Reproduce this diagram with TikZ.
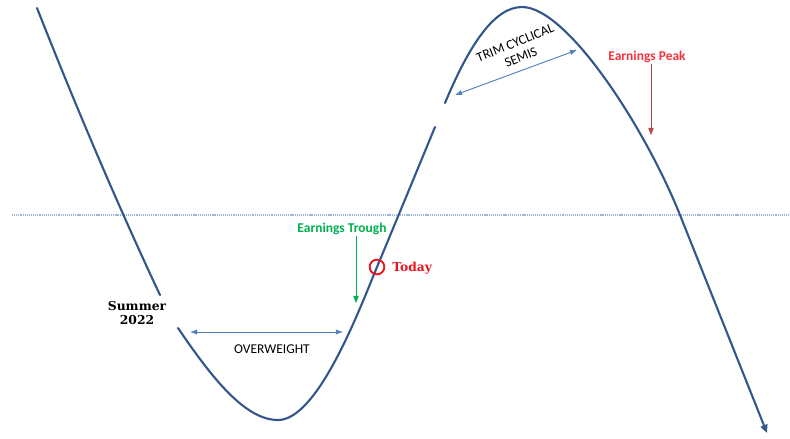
\documentclass[tikz,border=0pt]{standalone}
\usepackage{fontspec}
\setmainfont{Carlito}
\newfontfamily\slabfont{DejaVu Serif}
\usetikzlibrary{arrows.meta,positioning}
\definecolor{cycleBlue}{HTML}{34568B}
\definecolor{spanBlue}{HTML}{4F81BD}
\definecolor{midBlue}{HTML}{9DB5DD}
\definecolor{peakRed}{HTML}{F5333F}
\definecolor{peakArrow}{HTML}{B5474B}
\definecolor{troughGreen}{HTML}{00B050}
\definecolor{todayRed}{HTML}{E8141E}

\begin{document}
\begin{tikzpicture}[x=0.03cm,y=-0.03cm]
    \tikzset{
      cycleline/.style={draw=cycleBlue,line width=1.8pt,line cap=round},
      midline/.style={draw=midBlue,line width=0.9pt,dash pattern=on 1pt off 0.8pt},
      span/.style={{Latex[length=6pt,width=4.5pt]}-{Latex[length=6pt,width=4.5pt]},draw=spanBlue,line width=0.8pt},
      flag/.style={-{Triangle[length=6pt,width=4.5pt]},line width=0.8pt},
      lbl/.style={font=\bfseries\fontsize{11.5}{13}\selectfont,inner sep=1pt},
      spanlbl/.style={font=\fontsize{11.5}{13}\selectfont,inner sep=0.5pt,align=center},
      serifbold/.style={font=\slabfont\bfseries\fontsize{10.5}{12.5}\selectfont,align=center,inner sep=1pt}
    }
    \useasboundingbox (0,0) rectangle (790,438);
    % zero line
    \coordinate (zl) at (12,215);
    \coordinate (zr) at (790,215);
    \draw[midline] (zl) -- (zr);
    % the cycle, in three pieces
    \draw[cycleline] (37,8) .. controls (78,112) and (120,210) .. (160,295);
    \draw[cycleline] (178,328) .. controls (212,378) and (245,420) .. (278,420)
      .. controls (318,420) and (359.6,309) .. (377,267)
      .. controls (397,219) and (416,173) .. (435,127);
    \draw[cycleline,-{Triangle[length=7pt,width=6pt]}] (445,103) .. controls (470,43) and (495,7) .. (522,7)
      .. controls (567,7) and (645,127.5) .. (680,215)
      .. controls (694,250) and (745,378) .. (767,433);
    % labels
    \node[lbl,text=peakRed] (peak) at (647,57) {Earnings Peak};
    \coordinate (peaktip) at (651,135);
    \draw[flag,draw=peakArrow] (peak.south -| peaktip) -- (peaktip);
    \node[lbl,text=troughGreen] (trough) at (342,229) {Earnings Trough};
    \coordinate (troughtip) at (356,303);
    \draw[flag,draw=troughGreen] (trough.south -| troughtip) -- (troughtip);
    \node[circle,draw=todayRed,line width=1.6pt,minimum size=0.44cm,inner sep=0pt] (today) at (377,267) {};
    \node[serifbold,text=todayRed,anchor=west] (todaytxt) at (391,268) {Today};
    \node[serifbold] (summer) at (137,313) {Summer\\2022};
    % holding periods
    \coordinate (owL) at (190,332);
    \coordinate (owR) at (343,332);
    \draw[span] (owL) -- (owR);
    \node[spanlbl] (ow) at (272,349) {OVERWEIGHT};
    \coordinate (trimL) at (455,95);
    \coordinate (trimR) at (577,50);
    \draw[span] (trimL) -- (trimR);
    \node[spanlbl,rotate=22] (trim) at (518,50) {TRIM CYCLICAL\\SEMIS};
  \end{tikzpicture}
\end{document}
